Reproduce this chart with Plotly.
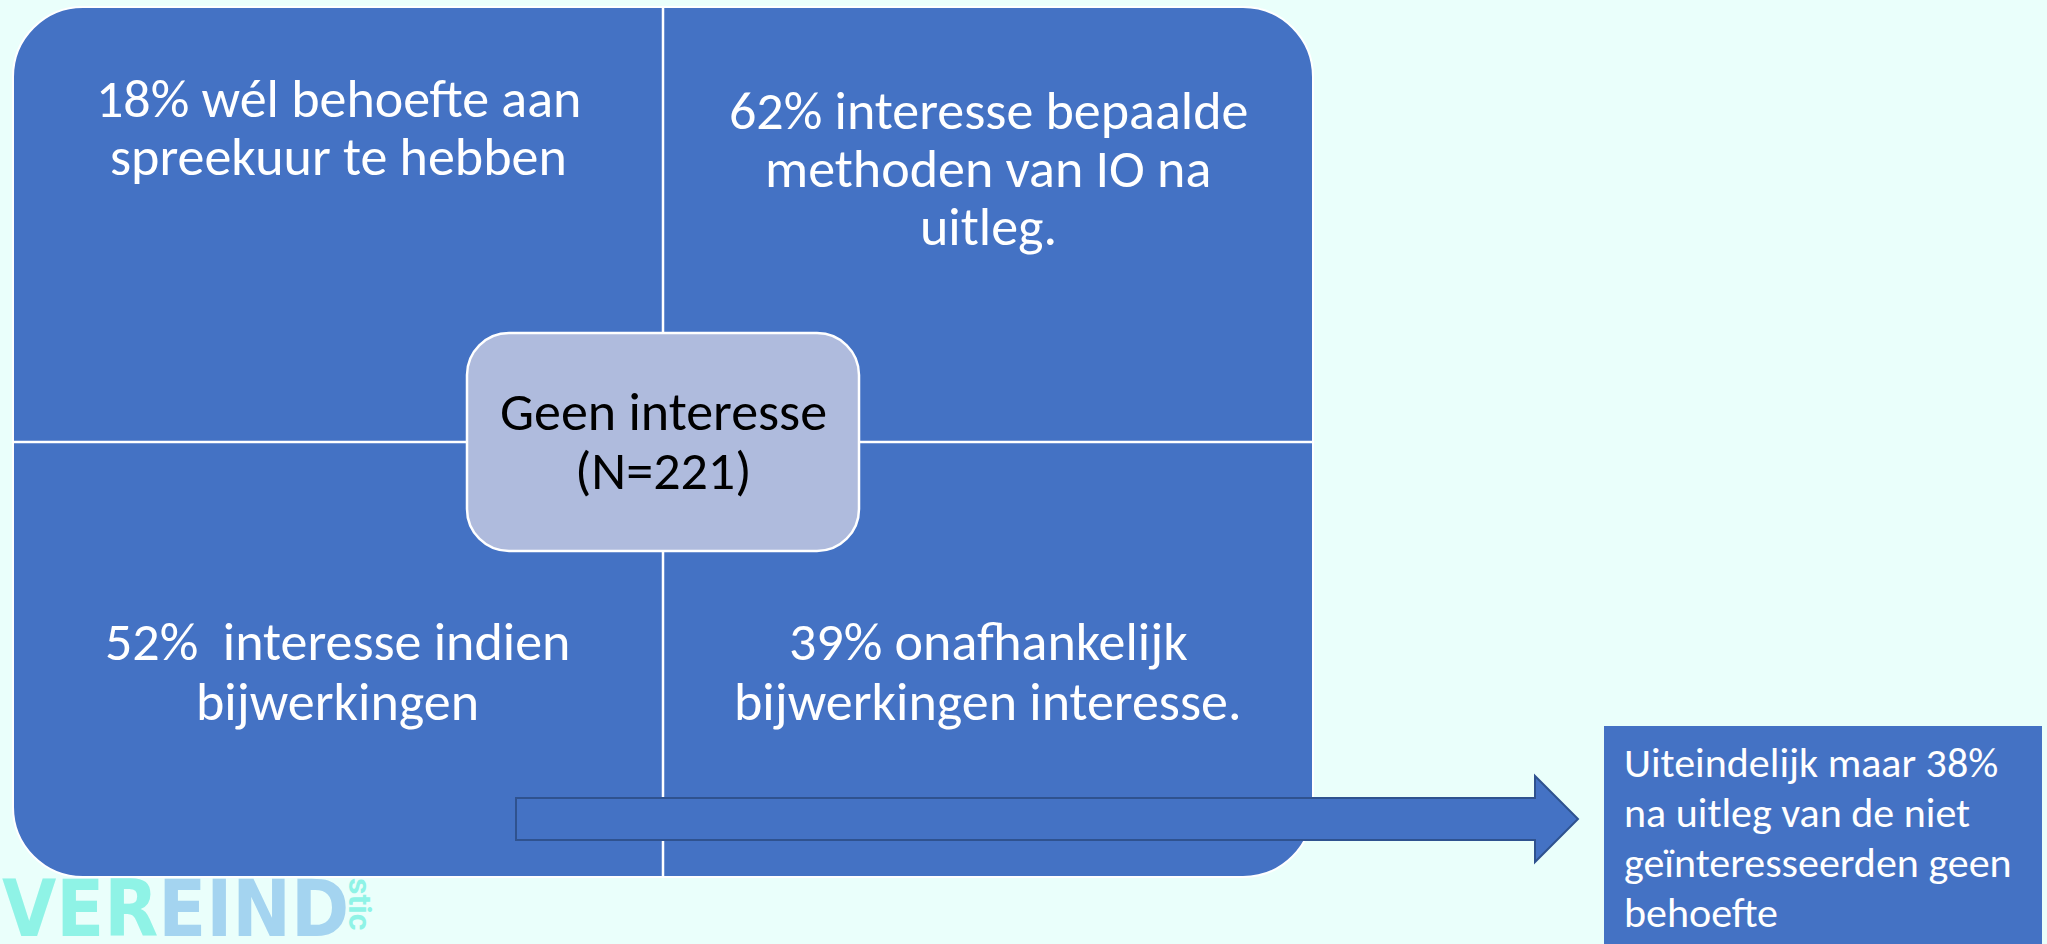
import plotly.graph_objects as go

# ---------------- data (texts of the diagram) ----------------
quadrant_tl = ["18% wél behoefte aan", "spreekuur te hebben"]
quadrant_tr = ["62% interesse bepaalde", "methoden van IO na", "uitleg."]
quadrant_bl = ["52%  interesse indien", "bijwerkingen"]
quadrant_br = ["39% onafhankelijk", "bijwerkingen interesse."]
center_lines = ["Geen interesse", "(N=221)"]
conclusion_lines = ["Uiteindelijk maar 38%", "na uitleg van de niet",
                    "geïnteresseerden geen", "behoefte"]
logo_a = "VER"
logo_b = "EIND"
logo_side = "stic"

# ---------------- style ----------------
W, H = 2047, 944
BG = "#EAFFFB"
BLUE = "#4472C4"
BLUE_DARK = "#2F528F"
LAV = "#AFBBDD"
FONT = "Carlito, Calibri, Lato, sans-serif"
K = 0.30  # baseline -> middle offset factor


def rrect(x0, y0, x1, y1, r):
    k = 0.5523 * r
    return (f"M {x0 + r},{y0} L {x1 - r},{y0} "
            f"C {x1 - r + k},{y0} {x1},{y0 + r - k} {x1},{y0 + r} "
            f"L {x1},{y1 - r} "
            f"C {x1},{y1 - r + k} {x1 - r + k},{y1} {x1 - r},{y1} "
            f"L {x0 + r},{y1} "
            f"C {x0 + r - k},{y1} {x0},{y1 - r + k} {x0},{y1 - r} "
            f"L {x0},{y0 + r} "
            f"C {x0},{y0 + r - k} {x0 + r - k},{y0} {x0 + r},{y0} Z")


fig = go.Figure()
fig.add_trace(go.Scatter(x=[0, W], y=[0, H], mode="markers",
                         marker=dict(opacity=0), hoverinfo="skip",
                         showlegend=False))

shapes = []
# main rounded box
MX0, MY0, MX1, MY1 = 13, 7, 1313, 877
DX, DY = 663, 442
shapes.append(dict(type="path", path=rrect(MX0, MY0, MX1, MY1, 70),
                   fillcolor=BLUE, line=dict(color="white", width=2)))
# dividers
shapes.append(dict(type="line", x0=DX, x1=DX, y0=MY0, y1=MY1,
                   line=dict(color="white", width=2.5)))
shapes.append(dict(type="line", x0=MX0, x1=MX1, y0=DY, y1=DY,
                   line=dict(color="white", width=2.5)))
# center box
shapes.append(dict(type="path", path=rrect(467, 333, 859, 551, 42),
                   fillcolor=LAV, line=dict(color="white", width=2.5)))
# arrow
arrow = [(516, 798), (1535, 798), (1535, 776), (1578, 819),
         (1535, 862), (1535, 840), (516, 840)]
apath = "M " + " L ".join(f"{x},{y}" for x, y in arrow) + " Z"
shapes.append(dict(type="path", path=apath, fillcolor=BLUE,
                   line=dict(color=BLUE_DARK, width=2)))
# conclusion box
shapes.append(dict(type="rect", x0=1604, x1=2042, y0=726, y1=960,
                   fillcolor=BLUE, line=dict(width=0)))

annotations = []


def add_lines(lines, x, baselines, size, color, anchor="center"):
    for line, b in zip(lines, baselines):
        annotations.append(dict(
            x=x, y=b - K * size, xref="x", yref="y",
            text=line, showarrow=False, xanchor=anchor, yanchor="middle",
            font=dict(family=FONT, size=size, color=color)))


QS = 54
add_lines(quadrant_tl, 338, [115, 173], QS, "white")
add_lines(quadrant_tr, 988, [127, 185, 243], QS, "white")
add_lines(quadrant_bl, 337, [658, 718], QS, "white")
add_lines(quadrant_br, 988, [658, 718], QS, "white")
add_lines(center_lines, 663, [428, 487], 54, "black")
add_lines(conclusion_lines, 1622, [775, 825, 875, 925], 42, "white",
          anchor="left")

# watermark logo (partially cut off at the bottom)
annotations.append(dict(
    x=0, y=862, xref="x", yref="y", xanchor="left", yanchor="top",
    showarrow=False,
    text=(f"<b><span style='color:#8FF3E6'>{logo_a}</span>"
          f"<span style='color:#A4D4F0'>{logo_b}</span></b>"),
    font=dict(family="DejaVu Sans Condensed, Roboto, sans-serif", size=78)))
annotations.append(dict(
    x=360, y=876, xref="x", yref="y", xanchor="center", yanchor="top",
    showarrow=False, textangle=90, text=f"<b>{logo_side}</b>",
    font=dict(family="Roboto, sans-serif", size=32, color="#8FF3E6")))

fig.update_layout(
    width=W, height=H, margin=dict(l=0, r=0, t=0, b=0),
    paper_bgcolor=BG, plot_bgcolor=BG,
    xaxis=dict(range=[0, W], visible=False, fixedrange=True),
    yaxis=dict(range=[H, 0], visible=False, fixedrange=True),
    shapes=shapes, annotations=annotations, showlegend=False,
    hovermode=False,
)

fig.write_html(
    "out.html", config={"displayModeBar": False},
    post_script=("document.body.style.margin='0';"
                 "document.body.style.overflow='hidden';"
                 f"document.body.style.background='{BG}';"))
